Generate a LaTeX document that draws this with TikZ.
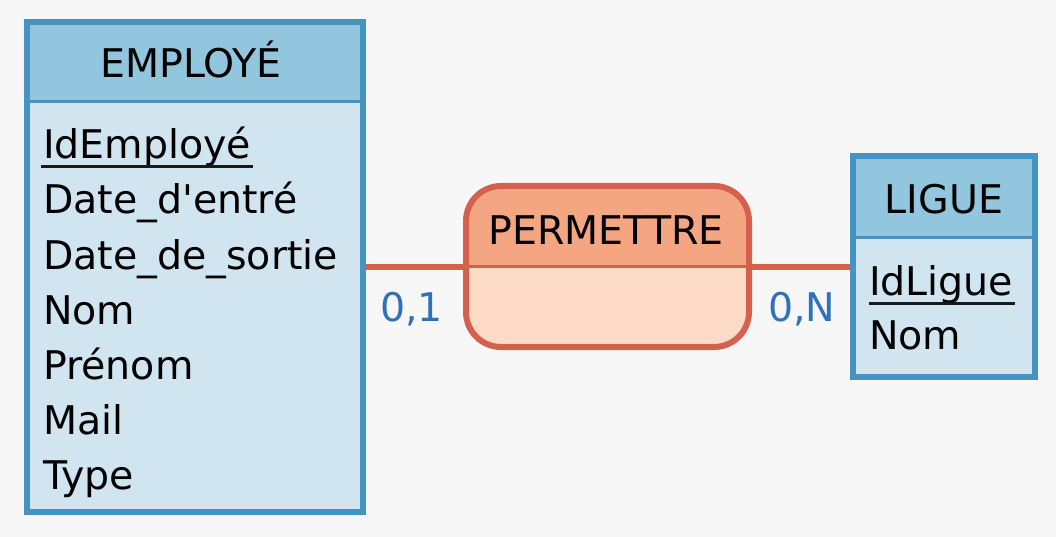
\documentclass[tikz,border=0pt]{standalone}
\usepackage{fontspec}
\setmainfont{DejaVu Sans}[Ligatures=TeXOff]
\definecolor{bg}{HTML}{F7F7F7}
\definecolor{entline}{HTML}{4393C3}
\definecolor{enthead}{HTML}{92C5DE}
\definecolor{entbody}{HTML}{D1E5F0}
\definecolor{relline}{HTML}{D6604D}
\definecolor{relhead}{HTML}{F4A582}
\definecolor{relbody}{HTML}{FDDBC7}
\definecolor{card}{HTML}{2E72BE}
\begin{document}
\begin{tikzpicture}[x=1pt,y=-1pt,
  txt/.style={inner sep=0pt, outer sep=0pt, font=\fontsize{39.5}{47}\selectfont, text=black},
  attr/.style={txt, anchor=base west},
  cardtxt/.style={txt, anchor=base west, text=card},
  entbox/.style={rectangle, inner sep=0pt, outer sep=0pt, fill=entbody},
  entborder/.style={draw=entline, line width=6pt},
  entsep/.style={draw=entline, line width=3.5pt},
  relbox/.style={rectangle, rounded corners=35pt, inner sep=0pt, outer sep=0pt, fill=relbody},
  relborder/.style={draw=relline, line width=6pt, rounded corners=35pt},
  relsep/.style={draw=relline, line width=3.5pt},
  conn/.style={draw=relline, line width=6pt},
  uline/.style={draw=black!90, line width=3pt}]
\fill[bg] (0,0) rectangle (1056,537);
\useasboundingbox (0,0) rectangle (1056,537);

% nodes (shapes)
\node[entbox, minimum width=336pt, minimum height=489pt] (emp) at (194.5,267) {};
\node[entbox, minimum width=182pt, minimum height=221pt] (lig) at (943.75,266.75) {};
\node[relbox, minimum width=283pt, minimum height=161pt] (rel) at (607.5,266.5) {};

\coordinate (empsep) at (0,101.5);
\coordinate (ligsep) at (0,237.5);

% connectors
\draw[conn] (emp.east |- rel.west) -- (rel.west);
\draw[conn] (rel.east) -- (rel.east -| lig.west);

% EMPLOYE
\fill[enthead] (emp.north west) rectangle (emp.east |- empsep);
\draw[entsep] (emp.west |- empsep) -- (emp.east |- empsep);
\draw[entborder] (emp.north west) rectangle (emp.south east);

% LIGUE
\fill[enthead] (lig.north west) rectangle (lig.east |- ligsep);
\draw[entsep] (lig.west |- ligsep) -- (lig.east |- ligsep);
\draw[entborder] (lig.north west) rectangle (lig.south east);

% PERMETTRE
\begin{scope}
  \clip[rounded corners=35pt] (rel.north west) rectangle (rel.south east);
  \fill[relhead] (rel.north west) rectangle (rel.east);
\end{scope}
\draw[relsep] (rel.west) -- (rel.east);
\draw[relborder] (rel.north west) rectangle (rel.south east);

% texts
\node[txt, anchor=base] (empname) at (191,78) {EMPLOYÉ};
\node[attr] (a1) at (43,158.5) {IdEmployé};
\node[attr] (a2) at (43,214) {Date\_d'entré};
\node[attr] (a3) at (43,269) {Date\_de\_sortie};
\node[attr] (a4) at (43,324) {Nom};
\node[attr] (a5) at (43,379) {Prénom};
\node[attr] (a6) at (43,434) {Mail};
\node[attr] (a7) at (43,489) {Type};
\draw[uline] ([xshift=-2pt,yshift=-8pt]a1.base west) -- ([xshift=2pt,yshift=-8pt]a1.base east);

\node[txt, anchor=base] (ligname) at (944,214) {LIGUE};
\node[attr] (b1) at (869,295.5) {IdLigue};
\node[attr] (b2) at (869,349.5) {Nom};
\draw[uline] ([yshift=-7.5pt]b1.base west) -- ([xshift=2pt,yshift=-7.5pt]b1.base east);

\node[txt, anchor=base] (relname) at (606,244) {PERMETTRE};

\node[cardtxt] (c1) at (380,321) {0,1};
\node[cardtxt] (c2) at (768,321) {0,N};
\end{tikzpicture}
\end{document}
